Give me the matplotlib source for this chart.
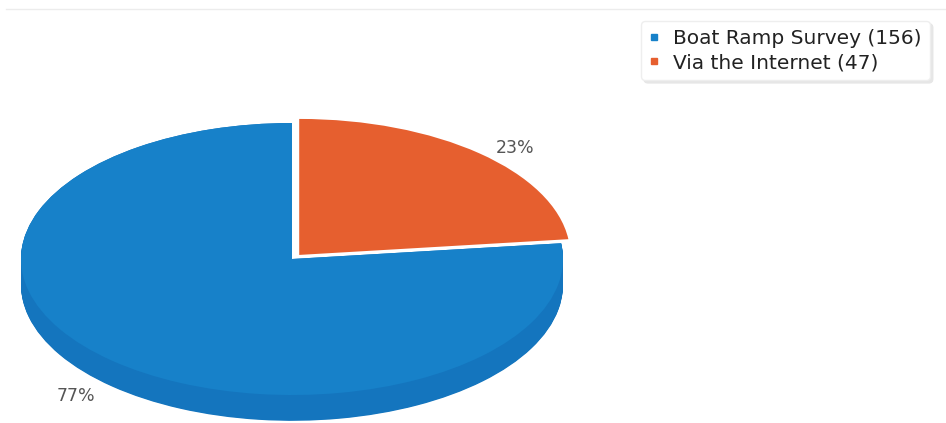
import matplotlib.pyplot as plt
from matplotlib.lines import Line2D
import numpy as np

labels = ["Boat Ramp Survey", "Via the Internet"]
counts = [156, 47]
colors = ["#1781C9", "#E65F2F"]
side_colors = ["#1475BE", "none"]

W, H = 946, 423
fig = plt.figure(figsize=(W / 100, H / 100), dpi=100)

# ellipse geometry in pixels
cx, cy, rx, ry = 292, 259, 271, 136
depth = 0.19  # side thickness in y units of the unit circle

ax = fig.add_axes([(cx - rx) / W, (H - cy - ry - depth * ry) / H,
                   2 * rx / W, (2 + depth) * ry / H])
explode = [0, 0.04]

# side of the 3d pie: stack of darker pies shifted down
for off in np.linspace(depth, 0.0, 40):
    ax.pie(counts, colors=side_colors, startangle=90, explode=explode,
           center=(0, -off), wedgeprops=dict(linewidth=0))

wedges, _, pcts = ax.pie(counts, colors=colors, startangle=90, explode=explode,
                         autopct="%.0f%%", pctdistance=1.2,
                         wedgeprops=dict(linewidth=0),
                         textprops=dict(color="#555555", fontsize=12.5))
for t in pcts:
    x, y = t.get_position()
    t.set_position((x, y - 0.11))

ax.set_aspect("auto")
ax.set_xlim(-1, 1)
ax.set_ylim(-1 - depth, 1)

# faint rule along the top
fig.add_artist(Line2D([6 / W, 1], [1 - 9 / H, 1 - 9 / H], color="#ececec", lw=1))

handles = [Line2D([], [], marker="s", ls="", color=c, markersize=5) for c in colors]
leg_labels = [f"{l} ({n})" for l, n in zip(labels, counts)]
fig.legend(handles, leg_labels, loc="upper right", bbox_to_anchor=(930 / W, 1 - 21 / H),
           fontsize=14.5, frameon=True, fancybox=True,
           shadow=dict(color="#e6e6e6", alpha=1), framealpha=1,
           handletextpad=0.7, handlelength=0.5, borderpad=0.4, labelspacing=0.25,
           borderaxespad=0, labelcolor="#222222", edgecolor="#eeeeee")

fig.savefig("out.png", dpi=100)
